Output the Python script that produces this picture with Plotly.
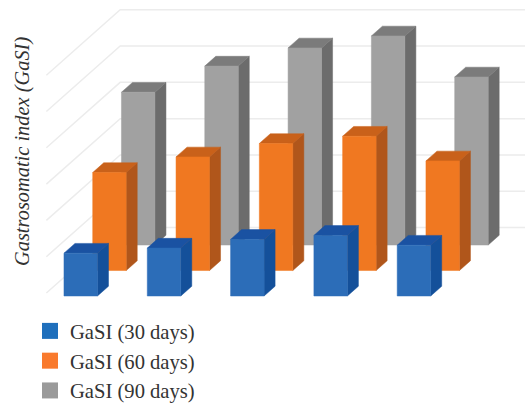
import plotly.graph_objects as go

# Gastrosomatic index per group, one list per sampling day
groups = ["1", "2", "3", "4", "5"]
gasi_30 = [1.18, 1.32, 1.56, 1.67, 1.40]
gasi_60 = [2.70, 3.13, 3.50, 3.70, 3.02]
gasi_90 = [4.21, 4.93, 5.43, 5.76, 4.63]
grid_values = [0, 1, 2, 3, 4, 5, 6]

series = [
    ("GaSI (30 days)", gasi_30, "#2c6db8", "#14509a", "#1a52a2", "#1f6fbc"),
    ("GaSI (60 days)", gasi_60, "#f07821", "#b0561b", "#c9611a", "#f97a2d"),
    ("GaSI (90 days)", gasi_90, "#a1a1a1", "#6c6c6c", "#7b7b7b", "#9a9a9a"),
]

# Oblique projection: one series step back moves right and up by these amounts
SHEAR_X = 0.345
SHEAR_Y = 0.702
BAR_HALF = 0.201
BAR_DEPTH = 0.383
WALL_FRONT = 0.118
WALL_BACK = 2.686
WALL_LEFT = -0.453
WALL_RIGHT = 5.6


def project(cat, depth, value):
    return cat + depth * SHEAR_X, value + depth * SHEAR_Y


def polygons(faces):
    xs, ys = [], []
    for face in faces:
        pts = [project(*p) for p in face]
        pts.append(pts[0])
        xs += [p[0] for p in pts] + [None]
        ys += [p[1] for p in pts] + [None]
    return xs, ys


fig = go.Figure()

# Side wall and back wall gridlines
gx, gy = [], []
for v in grid_values:
    line = [project(WALL_LEFT, WALL_FRONT, v), project(WALL_LEFT, WALL_BACK, v),
            (WALL_RIGHT, project(0, WALL_BACK, v)[1])]
    gx += [p[0] for p in line] + [None]
    gy += [p[1] for p in line] + [None]
fig.add_trace(go.Scatter(x=gx, y=gy, mode="lines", showlegend=False, hoverinfo="skip",
                         line=dict(color="#ececec", width=1.5)))

# Rear series first so nearer bars overlap it
for step in (2, 1, 0):
    name, values, front, side, top, swatch = series[step]
    fronts, sides, tops = [], [], []
    for i, v in enumerate(values):
        l, r = i - BAR_HALF, i + BAR_HALF
        d0, d1 = step, step + BAR_DEPTH
        fronts.append([(l, d0, 0), (r, d0, 0), (r, d0, v), (l, d0, v)])
        sides.append([(r, d0, 0), (r, d1, 0), (r, d1, v), (r, d0, v)])
        tops.append([(l, d0, v), (r, d0, v), (r, d1, v), (l, d1, v)])
    for faces, color in ((sides, side), (tops, top), (fronts, front)):
        x, y = polygons(faces)
        fig.add_trace(go.Scatter(x=x, y=y, mode="lines", fill="toself", fillcolor=color,
                                 line=dict(color=color, width=0.5),
                                 showlegend=False, hoverinfo="skip"))

# Legend keys, listed from the front series to the rear one
for rank, (name, values, front, side, top, swatch) in enumerate(series):
    fig.add_trace(go.Scatter(x=[None], y=[None], mode="markers", name=name,
                             legendgroup=name, legendrank=rank + 1,
                             marker=dict(symbol="square", size=16, color=swatch)))

# The legend reserves the strip below the plot area, which ends 311 px down the page
fig.update_layout(
    width=525, height=403, margin=dict(l=0, r=0, t=0, b=0),
    paper_bgcolor="white", plot_bgcolor="white",
    xaxis=dict(visible=False, range=[-0.969, 5.333]),
    yaxis=dict(visible=False, range=[-0.413, 8.154]),
    font=dict(family="Liberation Serif", color="#333333"),
    legend=dict(x=30 / 525, y=1 - 311 / 403, xref="paper", yref="container",
                xanchor="left", yanchor="top",
                font=dict(family="Liberation Serif", size=20.6, color="#333333"),
                tracegroupgap=0, bgcolor="rgba(0,0,0,0)"),
    annotations=[dict(text="<i>Gastrosomatic index (GaSI)</i>", xref="paper", yref="paper",
                      x=22 / 525, y=1 - 152 / 311, xanchor="center", yanchor="middle",
                      showarrow=False, textangle=-90,
                      font=dict(family="Liberation Serif", size=20.4, color="#333333"))],
)

fig.write_html("out.html")
